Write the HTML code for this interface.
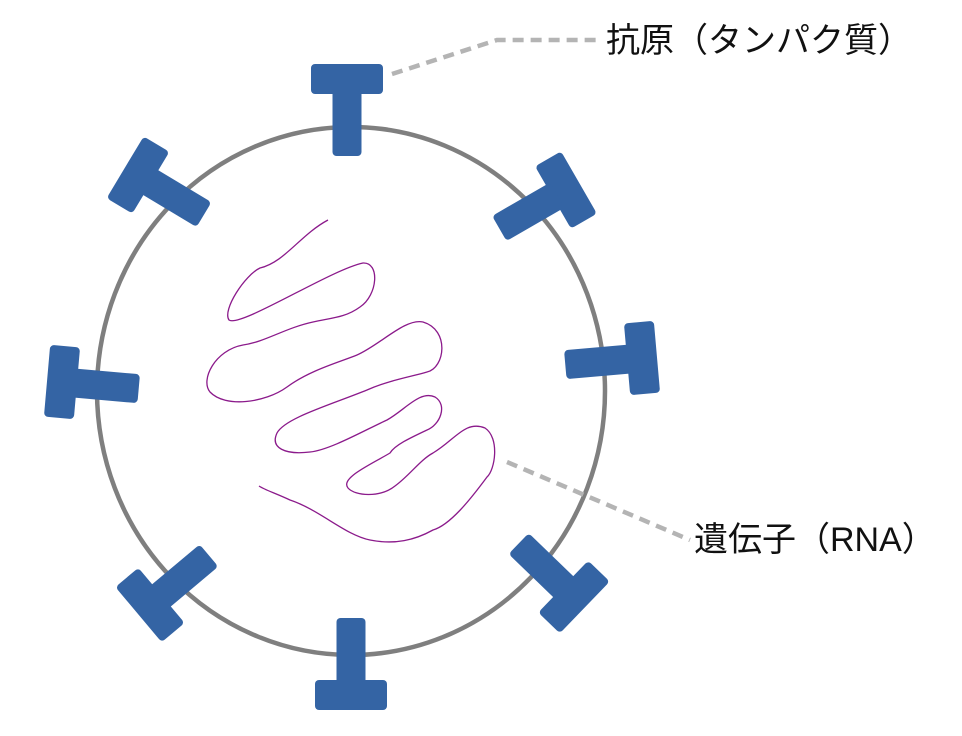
<!DOCTYPE html>
<html><head><meta charset="utf-8"><style>
html,body{margin:0;padding:0;background:#fff;}
svg{display:block;}
text{font-family:"Liberation Sans","Noto Sans CJK JP",sans-serif;font-size:34px;fill:#111;}
</style></head><body>
<svg width="962" height="736" viewBox="0 0 962 736" xmlns="http://www.w3.org/2000/svg">
<defs>
<g id="T">
<rect x="-36" y="-15" width="72" height="30" rx="4" fill="#3464a4"/>
<rect x="-14.5" y="10" width="29" height="67" rx="4" fill="#3464a4"/>
</g>
</defs>
<ellipse cx="351" cy="391" rx="254" ry="264" fill="none" stroke="#7f7f7f" stroke-width="4.5"/>
<use href="#T" transform="translate(347,79) rotate(0)"/>
<use href="#T" transform="translate(566,190) rotate(60)"/>
<use href="#T" transform="translate(642,358) rotate(85)"/>
<use href="#T" transform="translate(574,597) rotate(134)"/>
<use href="#T" transform="translate(351,695) rotate(180)"/>
<use href="#T" transform="translate(150,605) rotate(-130)"/>
<use href="#T" transform="translate(62,382) rotate(-85)"/>
<use href="#T" transform="translate(138,175) rotate(-59)"/>
<polyline points="392,74 497,40 600,40" fill="none" stroke="#b4b4b4" stroke-width="4.5" stroke-dasharray="11 7"/>
<polyline points="507,462 690,540" fill="none" stroke="#b4b4b4" stroke-width="4.5" stroke-dasharray="11 7"/>
<path d="M328,220 C300,235 285,262 260,268 C245,275 222,310 229,320 C240,328 330,270 363,263 C380,262 378,295 360,307 C345,318 330,318 313,322 C285,328 265,342 243,345 C215,350 200,380 210,392 C225,408 265,403 287,387 C310,370 340,362 357,355 C380,345 405,318 423,322 C450,330 445,368 427,372 C410,377 390,380 367,390 C330,405 285,418 277,433 C270,448 285,455 310,452 C330,450 365,430 387,420 C405,410 420,390 435,397 C448,405 440,425 427,430 C410,438 395,445 390,453 C370,465 340,478 348,488 C355,496 380,498 395,486 C410,475 420,460 433,453 C455,440 465,420 485,428 C500,438 495,470 487,477 C470,500 450,525 433,530 C415,540 395,545 370,540 C345,535 320,510 290,500 C275,493 265,490 259,486" fill="none" stroke="#8b1a8b" stroke-width="1.3"/>
<text x="606" y="52">抗原（タンパク質）</text>
<text x="694" y="551">遺伝子（RNA）</text>
</svg>
</body></html>
